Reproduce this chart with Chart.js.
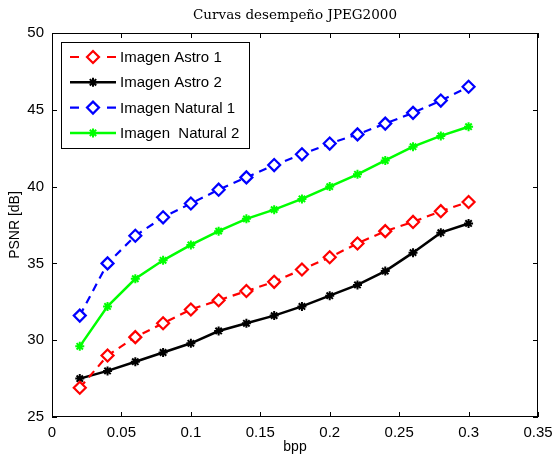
<!DOCTYPE html>
<html>
<head>
<meta charset="utf-8">
<script src="https://cdn.jsdelivr.net/npm/chart.js@4.4.1/dist/chart.umd.min.js"></script>
<style>
  body { margin: 0; background: #fff; }
  canvas { display: block; }
</style>
</head>
<body>
<canvas id="chart" width="554" height="456"></canvas>
<script>
// bpp values shared by all curves
const bpp = [0.02, 0.04, 0.06, 0.08, 0.10, 0.12, 0.14, 0.16, 0.18, 0.20, 0.22, 0.24, 0.26, 0.28, 0.30];
// PSNR
const astro1 = [26.9, 29.0, 30.2, 31.1, 32.0, 32.6, 33.2, 33.8, 34.6, 35.4, 36.3, 37.1, 37.7, 38.4, 39.0];
const astro2 = [27.5, 28.0, 28.6, 29.2, 29.8, 30.6, 31.1, 31.6, 32.2, 32.9, 33.6, 34.5, 35.7, 37.0, 37.6];
const natural1 = [31.6, 35.0, 36.8, 38.0, 38.9, 39.8, 40.6, 41.4, 42.1, 42.8, 43.4, 44.1, 44.8, 45.6, 46.5];
const natural2 = [29.6, 32.2, 34.0, 35.2, 36.2, 37.1, 37.9, 38.5, 39.2, 40.0, 40.8, 41.7, 42.6, 43.3, 43.9];
const seriesNames = ['Imagen Astro 1', 'Imagen Astro 2', 'Imagen Natural 1', 'Imagen  Natural 2'];
const xTicks = [0, 0.05, 0.1, 0.15, 0.2, 0.25, 0.3, 0.35];
const yTicks = [25, 30, 35, 40, 45, 50];

const sansFont = "'Liberation Sans', Arial, sans-serif";

function pts(vals) {
  return vals.map((v, i) => ({ x: bpp[i], y: v }));
}

// box, inward ticks, title and legend drawn like the matlab figure
const matlabFrame = {
  id: 'matlabFrame',
  afterDraw(chart) {
    const ctx = chart.ctx;
    const a = chart.chartArea;
    const xs = chart.scales.x, ys = chart.scales.y;
    ctx.save();
    ctx.strokeStyle = '#000';
    ctx.lineWidth = 1;
    ctx.strokeRect(a.left + 0.5, a.top + 0.5, a.right - a.left - 1, a.bottom - a.top - 1);
    ctx.beginPath();
    xTicks.forEach(t => {
      const px = Math.round(xs.getPixelForValue(t)) + 0.5;
      ctx.moveTo(px, a.bottom); ctx.lineTo(px, a.bottom - 5);
      ctx.moveTo(px, a.top); ctx.lineTo(px, a.top + 5);
    });
    yTicks.forEach(t => {
      const py = Math.round(ys.getPixelForValue(t)) + 0.5;
      ctx.moveTo(a.left, py); ctx.lineTo(a.left + 5, py);
      ctx.moveTo(a.right, py); ctx.lineTo(a.right - 5, py);
    });
    ctx.stroke();

    // title
    ctx.fillStyle = '#000';
    ctx.font = "13.5px 'DejaVu Serif', serif";
    ctx.textAlign = 'center';
    ctx.textBaseline = 'middle';
    ctx.fillText('Curvas desempeño JPEG2000', (a.left + a.right) / 2, 15);

    // legend
    const lx = 61, ly = 42, lw = 188, lh = 106;
    ctx.fillStyle = '#fff';
    ctx.fillRect(lx, ly, lw, lh);
    ctx.strokeStyle = '#000';
    ctx.lineWidth = 1;
    ctx.strokeRect(lx + 0.5, ly + 0.5, lw, lh);
    ctx.font = '15px ' + sansFont;
    ctx.textAlign = 'left';
    chart.data.datasets.forEach((ds, i) => {
      const y = ly + 15 + i * 25.3;
      ctx.save();
      ctx.strokeStyle = ds.borderColor;
      ctx.fillStyle = ds.backgroundColor;
      ctx.lineWidth = ds.borderWidth;
      ctx.beginPath();
      if (ds.borderDash) {
        ctx.moveTo(70, y); ctx.lineTo(79, y);
        ctx.moveTo(107, y); ctx.lineTo(116, y);
      } else {
        ctx.moveTo(70, y); ctx.lineTo(116, y);
      }
      ctx.stroke();
      ctx.lineWidth = ds.pointBorderWidth;
      Chart.helpers.drawPoint(ctx, {
        pointStyle: ds.pointStyle, radius: ds.pointRadius, borderWidth: ds.pointBorderWidth
      }, 93, y);
      ctx.restore();
      ctx.fillStyle = '#000';
      ctx.fillText(ds.label, 120, y + 1);
    });
    ctx.restore();
  }
};

new Chart(document.getElementById('chart'), {
  type: 'line',
  data: {
    datasets: [
      { label: seriesNames[0], data: pts(astro1), borderColor: '#ff0000', backgroundColor: '#ffffff',
        borderWidth: 2.2, borderDash: [8, 6], pointStyle: 'rectRot', pointRadius: 6, pointBorderWidth: 2.2 },
      { label: seriesNames[1], data: pts(astro2), borderColor: '#000000', backgroundColor: '#000000',
        borderWidth: 2.5, pointStyle: 'star', pointRadius: 4.5, pointBorderWidth: 2 },
      { label: seriesNames[2], data: pts(natural1), borderColor: '#0000ff', backgroundColor: '#ffffff',
        borderWidth: 2.2, borderDash: [8, 6], pointStyle: 'rectRot', pointRadius: 6, pointBorderWidth: 2.2 },
      { label: seriesNames[3], data: pts(natural2), borderColor: '#00ff00', backgroundColor: '#00ff00',
        borderWidth: 2.5, pointStyle: 'star', pointRadius: 4.5, pointBorderWidth: 2 }
    ]
  },
  options: {
    responsive: false,
    animation: false,
    layout: { padding: { top: 33, right: 0, left: 0, bottom: 0 } },
    elements: { line: { tension: 0, fill: false } },
    plugins: {
      legend: { display: false },
      title: { display: false },
      tooltip: { enabled: false }
    },
    scales: {
      x: {
        type: 'linear',
        min: 0, max: 0.35,
        afterBuildTicks: s => { s.ticks = xTicks.map(v => ({ value: v })); },
        afterFit: s => { s.height = 39; s.paddingRight = 16; s.paddingLeft = 0; },
        grid: { display: false, drawTicks: false },
        border: { display: false },
        ticks: {
          color: '#000', padding: 7,
          font: { family: sansFont, size: 15 },
          callback: v => String(Math.round(v * 100) / 100)
        },
        title: {
          display: true, text: 'bpp', color: '#000',
          font: { family: sansFont, size: 14 }, padding: { top: 0, bottom: 0 }
        }
      },
      y: {
        min: 25, max: 50,
        afterBuildTicks: s => { s.ticks = yTicks.map(v => ({ value: v })); },
        afterFit: s => { s.width = 52; },
        grid: { display: false, drawTicks: false },
        border: { display: false },
        ticks: {
          color: '#000', padding: 8,
          font: { family: sansFont, size: 15 }
        },
        title: {
          display: true, text: 'PSNR [dB]', color: '#000',
          font: { family: sansFont, size: 14 }, padding: { top: 7, bottom: 0 }
        }
      }
    }
  },
  plugins: [matlabFrame]
});
</script>
</body>
</html>
